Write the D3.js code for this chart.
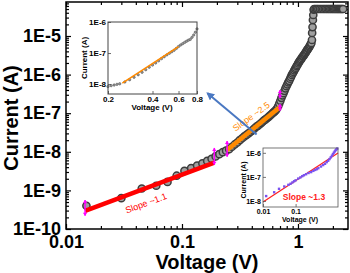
<!DOCTYPE html>
<html>
<head>
<meta charset="utf-8">
<script src="https://cdn.jsdelivr.net/npm/d3@7"></script>
<style>
  html, body { margin: 0; padding: 0; background: #fff; }
  svg { display: block; font-family: "Liberation Sans", Arial, sans-serif; }
</style>
</head>
<body>
<div id="chart"></div>
<script>
// I-V curve on log-log axes, with two insets.

// ---- main sweep (V, A)
const mainVoltage = [0.015, 0.030, 0.045, 0.060, 0.075, 0.090, 0.105, 0.120, 0.135, 0.150,
  0.165, 0.180, 0.195, 0.210, 0.225, 0.240, 0.255, 0.270, 0.285, 0.300,
  0.315, 0.330, 0.345, 0.360, 0.375, 0.390, 0.405, 0.420, 0.435, 0.450,
  0.465, 0.480, 0.495, 0.510, 0.525, 0.540, 0.555, 0.570, 0.585, 0.600,
  0.615, 0.630, 0.645, 0.660, 0.675, 0.690, 0.705, 0.720, 0.735, 0.750,
  0.765, 0.780, 0.795, 0.810, 0.825, 0.840, 0.855, 0.870, 0.885, 0.900,
  0.915, 0.930, 0.945, 0.960, 0.975, 0.990, 1.005, 1.020, 1.035, 1.050,
  1.065, 1.080, 1.095, 1.110, 1.125, 1.140, 1.155, 1.170, 1.185, 1.200,
  1.215, 1.230, 1.245, 1.260, 1.275, 1.290, 1.305, 1.320, 1.325, 1.335,
  1.345, 1.355, 1.365];
const mainCurrent = [4.0e-10, 6.3e-10, 1.12e-9, 1.32e-9, 1.66e-9, 2.4e-9, 3.2e-9, 3.8e-9, 4.4e-9, 5.0e-9,
  5.8e-9, 6.6e-9, 7.6e-9, 8.7e-9, 9.8e-9, 1.07e-8, 1.17e-8, 1.35e-8, 1.55e-8, 1.74e-8,
  2.0e-8, 2.24e-8, 2.5e-8, 2.75e-8, 3.0e-8, 3.3e-8, 3.6e-8, 4.0e-8, 4.4e-8, 4.7e-8,
  5.1e-8, 5.5e-8, 6.0e-8, 6.5e-8, 6.9e-8, 7.4e-8, 7.9e-8, 8.5e-8, 9.1e-8, 9.8e-8,
  1.05e-7, 1.12e-7, 1.2e-7, 1.32e-7, 1.51e-7, 1.78e-7, 2.1e-7, 2.5e-7, 2.9e-7, 3.3e-7,
  3.8e-7, 4.4e-7, 5.0e-7, 5.6e-7, 6.3e-7, 6.9e-7, 7.8e-7, 8.7e-7, 9.8e-7, 1.07e-6,
  1.17e-6, 1.29e-6, 1.41e-6, 1.51e-6, 1.66e-6, 1.78e-6, 1.95e-6, 2.1e-6, 2.24e-6, 2.4e-6,
  2.5e-6, 2.7e-6, 2.9e-6, 3.0e-6, 3.2e-6, 3.4e-6, 3.6e-6, 3.8e-6, 4.1e-6, 4.3e-6,
  4.6e-6, 4.8e-6, 5.1e-6, 5.4e-6, 5.8e-6, 6.2e-6, 6.6e-6, 7.9e-6, 1.2e-5, 1.7e-5,
  2.6e-5, 3.5e-5, 4.8e-5];
// compliance plateau
const complianceVoltage = [1.38, 1.42, 1.46, 1.50, 1.55, 1.60, 1.65, 1.70, 1.75, 1.80, 1.85, 1.90,
  1.95, 2.00, 2.05, 2.10, 2.15, 2.20, 2.25, 2.30, 2.35, 2.40, 2.45];
const complianceCurrent = 5.0e-5;

// fits on main plot
const fitLowV = [0.0146, 0.19];
const fitLowI = [2.95e-10, 5.25e-9];
const fitMidV = [0.245, 0.70];
const fitMidI = [1.12e-8, 1.45e-7];
// magenta range markers: V, I low, I high
const markerV = [0.0146, 0.19, 0.245, 0.70, 0.70];
const markerLo = [2.2e-10, 4.6e-9, 7.4e-9, 2.45e-7, 1.15e-7];
const markerHi = [5.6e-10, 1.26e-8, 1.9e-8, 4.0e-7, 1.74e-7];

const xTicks = [0.01, 0.1, 1];
const xTickLabels = ["0.01", "0.1", "1"];
const yTicks = [1e-10, 1e-9, 1e-8, 1e-7, 1e-6, 1e-5];
const yTickLabels = ["1E-10", "1E-9", "1E-8", "1E-7", "1E-6", "1E-5"];

// ---- inset 1 (top left)
const in1Voltage = [0.20, 0.21, 0.22, 0.23, 0.24, 0.26, 0.28, 0.30, 0.32, 0.34, 0.36, 0.38,
  0.40, 0.42, 0.44, 0.46, 0.48, 0.50, 0.52, 0.54, 0.56, 0.58, 0.60, 0.62, 0.64, 0.66,
  0.68, 0.70, 0.72, 0.74, 0.76, 0.78, 0.80];
const in1Current = [8.3e-9, 8.9e-9, 9.3e-9, 9.8e-9, 1.02e-8, 1.17e-8, 1.38e-8, 1.66e-8, 2.0e-8, 2.4e-8, 2.9e-8, 3.5e-8,
  4.1e-8, 4.8e-8, 5.6e-8, 6.6e-8, 7.6e-8, 8.7e-8, 9.8e-8, 1.1e-7, 1.23e-7, 1.41e-7, 1.62e-7, 1.82e-7, 2.0e-7, 2.2e-7,
  2.4e-7, 2.6e-7, 2.75e-7, 3.2e-7, 3.8e-7, 4.7e-7, 6.0e-7];
const in1FitV = [0.25, 0.60];
const in1FitI = [1.07e-8, 1.6e-7];
const in1XTicks = [0.2, 0.4, 0.6, 0.8];
const in1XLabels = ["0.2", "0.4", "0.6", "0.8"];
const in1YTicks = [1e-8, 1e-7, 1e-6];
const in1YLabels = ["1E-8", "1E-7", "1E-6"];

// ---- inset 2 (bottom right)
const in2Voltage = [0.0125, 0.022, 0.031, 0.045, 0.06, 0.07, 0.08, 0.09, 0.10, 0.12, 0.14, 0.16,
  0.18, 0.21, 0.25, 0.30, 0.35, 0.40, 0.45, 0.50, 0.60, 0.70, 0.80, 0.90, 1.0, 1.1,
  1.2, 1.3, 1.4, 1.5, 1.6, 1.7, 1.8, 1.9];
const in2Current = [1.6e-8, 2.3e-8, 3.2e-8, 4.0e-8, 4.7e-8, 5.2e-8, 5.9e-8, 6.6e-8, 7.2e-8, 8.5e-8, 9.5e-8, 1.07e-7,
  1.17e-7, 1.29e-7, 1.45e-7, 1.58e-7, 1.78e-7, 1.95e-7, 2.1e-7, 2.3e-7, 2.7e-7, 3.1e-7, 3.5e-7, 4.1e-7, 4.7e-7, 5.5e-7,
  6.5e-7, 7.6e-7, 8.9e-7, 1.02e-6, 1.15e-6, 1.29e-6, 1.41e-6, 1.51e-6];
const in2FitV = [0.01, 2.0];
const in2FitI = [9.1e-9, 9.8e-7];
const in2XTicks = [0.01, 0.1];
const in2XLabels = ["0.01", "0.1"];
const in2YTicks = [1e-8, 1e-7, 1e-6];
const in2YLabels = ["1E-8", "1E-7", "1E-6"];

// arrow from main curve to inset 1 (V, I)
const arrowV = [0.44, 0.166];
const arrowI = [2.8e-8, 3.3e-7];

const W = 350, H = 273;
const svg = d3.select("#chart").append("svg").attr("width", W).attr("height", H);

const defs = svg.append("defs");
defs.append("marker")
  .attr("id", "ahead").attr("viewBox", "0 0 10 10")
  .attr("refX", 8).attr("refY", 5)
  .attr("markerWidth", 4).attr("markerHeight", 4)
  .attr("orient", "auto")
  .append("path").attr("d", "M0,0 L10,5 L0,10 z").attr("fill", "#4a78c2");

// main scales
const x = d3.scaleLog().domain([0.01, 2.7]).range([66, 348]);
const y = d3.scaleLog().domain([1e-10, 7.6e-5]).range([229, 2]);

function minorOf(scale) {
  return scale.ticks().filter(v => Math.abs(Math.log10(v) - Math.round(Math.log10(v))) > 1e-6);
}

function drawAxes(g, sx, sy, opt) {
  const [x0, x1] = sx.range();
  const [y0, y1] = sy.range();
  const mk = (axis, tr) => g.append("g").attr("transform", tr).call(axis);
  const fmt = (ticks, labels) => v => labels[ticks.indexOf(v)];
  const styleAxis = sel => {
    sel.select(".domain").remove();
    sel.selectAll("line").attr("stroke", opt.color).attr("stroke-width", opt.tickWidth);
  };
  // major
  const bottom = mk(d3.axisBottom(sx).tickValues(opt.xTicks).tickFormat(fmt(opt.xTicks, opt.xLabels))
    .tickSize(-opt.major).tickPadding(opt.xPad), `translate(0,${y0})`);
  const left = mk(d3.axisLeft(sy).tickValues(opt.yTicks).tickFormat(fmt(opt.yTicks, opt.yLabels))
    .tickSize(-opt.major).tickPadding(opt.yPad), `translate(${x0},0)`);
  [bottom, left].forEach(a => {
    styleAxis(a);
    a.selectAll("text").attr("font-size", opt.fontSize).attr("font-weight", "bold")
      .attr("fill", "#000").attr("font-family", "Liberation Sans, Arial, sans-serif");
  });
  if (opt.mirror) {
    styleAxis(mk(d3.axisTop(sx).tickValues(opt.xTicks).tickFormat("").tickSize(-opt.major), `translate(0,${y1})`));
    styleAxis(mk(d3.axisRight(sy).tickValues(opt.yTicks).tickFormat("").tickSize(-opt.major), `translate(${x1},0)`));
  }
  if (opt.minor) {
    const mx = minorOf(sx), my = minorOf(sy);
    styleAxis(mk(d3.axisBottom(sx).tickValues(mx).tickFormat("").tickSize(-opt.minor), `translate(0,${y0})`));
    styleAxis(mk(d3.axisLeft(sy).tickValues(my).tickFormat("").tickSize(-opt.minor), `translate(${x0},0)`));
    if (opt.mirror) {
      styleAxis(mk(d3.axisTop(sx).tickValues(mx).tickFormat("").tickSize(-opt.minor), `translate(0,${y1})`));
      styleAxis(mk(d3.axisRight(sy).tickValues(my).tickFormat("").tickSize(-opt.minor), `translate(${x1},0)`));
    }
  }
  g.append("rect")
    .attr("x", x0).attr("y", y1).attr("width", x1 - x0).attr("height", y0 - y1)
    .attr("fill", "none").attr("stroke", opt.color).attr("stroke-width", opt.frameWidth);
}

const main = svg.append("g");
drawAxes(main, x, y, {
  xTicks, xLabels: xTickLabels, yTicks, yLabels: yTickLabels,
  major: 5, minor: 3, xPad: 6, yPad: 5, fontSize: 18,
  color: "#000", tickWidth: 1.2, frameWidth: 1.5, mirror: true
});

// axis titles
svg.append("text")
  .attr("x", 207).attr("y", 269)
  .attr("text-anchor", "middle")
  .attr("font-size", 20).attr("font-weight", "bold")
  .text("Voltage (V)");

svg.append("text")
  .attr("transform", "translate(18,118) rotate(-90)")
  .attr("text-anchor", "middle")
  .attr("font-size", 20).attr("font-weight", "bold")
  .text("Current (A)");

// main data points
const mainPts = mainVoltage.map((v, i) => ({ v, c: mainCurrent[i] }))
  .concat(complianceVoltage.map(v => ({ v, c: complianceCurrent })));

main.append("g").selectAll("circle")
  .data(mainPts)
  .join("circle")
  .attr("cx", d => x(d.v))
  .attr("cy", d => y(d.c))
  .attr("r", 3.6)
  .attr("fill", "#a0a0a0")
  .attr("stroke", "#3c3c3c")
  .attr("stroke-width", 1.5);

const line = (sx, sy) => d3.line().x(d => sx(d[0])).y(d => sy(d[1]));

main.append("path")
  .datum(fitLowV.map((v, i) => [v, fitLowI[i]]))
  .attr("d", line(x, y))
  .attr("stroke", "#ff0000").attr("stroke-width", 4.5).attr("fill", "none");

main.append("path")
  .datum(fitMidV.map((v, i) => [v, fitMidI[i]]))
  .attr("d", line(x, y))
  .attr("stroke", "#ff8a00").attr("stroke-width", 4.5).attr("fill", "none");

// magenta range markers
const mk = main.append("g").attr("fill", "#ff00ff").attr("stroke", "#ff00ff");
markerV.forEach((v, i) => {
  const cx = x(v), yt = y(markerHi[i]), yb = y(markerLo[i]);
  mk.append("line").attr("x1", cx).attr("x2", cx).attr("y1", yt).attr("y2", yb).attr("stroke-width", 1.5);
  mk.append("path").attr("stroke", "none")
    .attr("d", `M${cx - 2.2},${yt + 3} L${cx},${yt} L${cx + 2.2},${yt + 3} z M${cx - 2.2},${yb - 3} L${cx},${yb} L${cx + 2.2},${yb - 3} z`);
});

// slope labels
svg.append("text")
  .attr("transform", "translate(147,206) rotate(-20)")
  .attr("text-anchor", "middle")
  .attr("font-size", 9).attr("fill", "#ff0000")
  .text("Slope ~1.1");

svg.append("text")
  .attr("transform", "translate(253,119) rotate(-36)")
  .attr("text-anchor", "middle")
  .attr("font-size", 9).attr("fill", "#ff8a00")
  .text("Slope ~2.5");

// arrow
svg.append("line")
  .attr("x1", x(arrowV[0])).attr("y1", y(arrowI[0]))
  .attr("x2", x(arrowV[1])).attr("y2", y(arrowI[1]))
  .attr("stroke", "#4a78c2").attr("stroke-width", 2)
  .attr("marker-end", "url(#ahead)");

// ---- inset 1
const x1s = d3.scaleLog().domain([0.2, 0.8]).range([108, 197]);
const y1s = d3.scaleLog().domain([10 ** -8.32, 1e-6]).range([94, 22]);
const in1 = svg.append("g");
in1.append("rect").attr("x", 108).attr("y", 22).attr("width", 89).attr("height", 72).attr("fill", "#fff");
in1.append("g").selectAll("circle")
  .data(in1Voltage.map((v, i) => [v, in1Current[i]]))
  .join("circle")
  .attr("cx", d => x1s(d[0])).attr("cy", d => y1s(d[1]))
  .attr("r", 1.2).attr("fill", "#999").attr("stroke", "#555").attr("stroke-width", 0.6);
in1.append("path")
  .datum(in1FitV.map((v, i) => [v, in1FitI[i]]))
  .attr("d", line(x1s, y1s))
  .attr("stroke", "#ff8a00").attr("stroke-width", 1.6).attr("fill", "none");
drawAxes(in1, x1s, y1s, {
  xTicks: in1XTicks, xLabels: in1XLabels, yTicks: in1YTicks, yLabels: in1YLabels,
  major: 3, minor: 0, xPad: 2, yPad: 2, fontSize: 8,
  color: "#444", tickWidth: 0.8, frameWidth: 1, mirror: false
});
svg.append("text")
  .attr("x", 152).attr("y", 110)
  .attr("text-anchor", "middle").attr("font-size", 8).attr("font-weight", "bold")
  .text("Voltage (V)");
svg.append("text")
  .attr("transform", "translate(87,58) rotate(-90)")
  .attr("text-anchor", "middle").attr("font-size", 8).attr("font-weight", "bold")
  .text("Current (A)");

// ---- inset 2
const x2s = d3.scaleLog().domain([0.01, 2.0]).range([263, 338]);
const y2s = d3.scaleLog().domain([10 ** -8.25, 10 ** -5.8]).range([207, 148]);
const in2 = svg.append("g");
in2.append("rect").attr("x", 263).attr("y", 148).attr("width", 75).attr("height", 59).attr("fill", "#fff");
in2.append("path")
  .datum(in2FitV.map((v, i) => [v, in2FitI[i]]))
  .attr("d", line(x2s, y2s))
  .attr("stroke", "#ff2020").attr("stroke-width", 1.3).attr("fill", "none");
in2.append("g").selectAll("rect")
  .data(in2Voltage.map((v, i) => [v, in2Current[i]]))
  .join("rect")
  .attr("x", d => x2s(d[0]) - 1.2).attr("y", d => y2s(d[1]) - 1.2)
  .attr("width", 2.4).attr("height", 2.4)
  .attr("fill", "#7a52f0");
drawAxes(in2, x2s, y2s, {
  xTicks: in2XTicks, xLabels: in2XLabels, yTicks: in2YTicks, yLabels: in2YLabels,
  major: 3, minor: 0, xPad: 2, yPad: 2, fontSize: 7,
  color: "#555", tickWidth: 0.8, frameWidth: 0.8, mirror: false
});
svg.append("text")
  .attr("x", 300).attr("y", 222)
  .attr("text-anchor", "middle").attr("font-size", 7).attr("font-weight", "bold")
  .text("Voltage (V)");
svg.append("text")
  .attr("transform", "translate(246,180) rotate(-90)")
  .attr("text-anchor", "middle").attr("font-size", 7).attr("font-weight", "bold")
  .text("Current (A)");
svg.append("text")
  .attr("x", 304).attr("y", 200)
  .attr("text-anchor", "middle").attr("font-size", 8.5).attr("font-weight", "bold")
  .attr("fill", "#ff2020")
  .text("Slope ~1.3");
</script>
</body>
</html>
